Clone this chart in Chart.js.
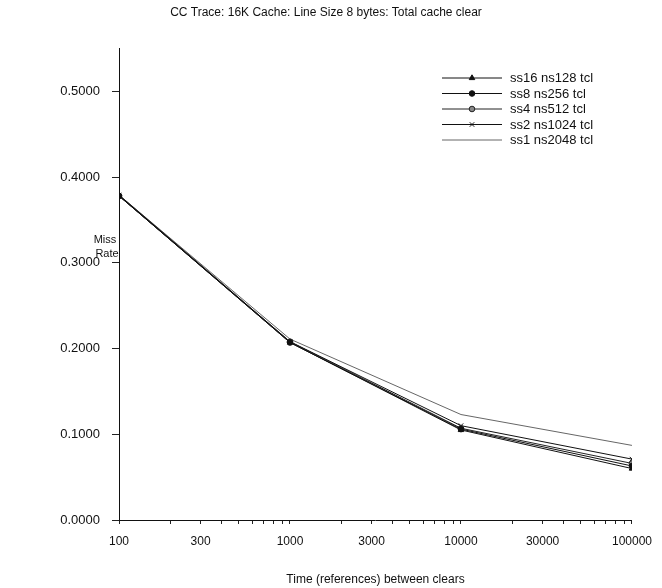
<!DOCTYPE html>
<html>
<head>
<meta charset="utf-8">
<script src="https://cdn.jsdelivr.net/npm/chart.js@4/dist/chart.umd.min.js"></script>
<style>
  html, body { margin: 0; padding: 0; background: #fff; }
  #wrap { width: 662px; height: 588px; }
</style>
</head>
<body>
<div id="wrap"><canvas id="c" width="662" height="588"></canvas></div>
<script>
// Time between clears (references), log axis
const clearIntervals = [100, 1000, 10000, 100000];

// Miss rate for each set-size / number-of-sets configuration
const ss16ns128 = [0.378, 0.207, 0.105, 0.060];
const ss8ns256  = [0.378, 0.207, 0.106, 0.063];
const ss4ns512  = [0.378, 0.208, 0.107, 0.066];
const ss2ns1024 = [0.379, 0.208, 0.110, 0.071];
const ss1ns2048 = [0.379, 0.211, 0.123, 0.087];

const seriesLabels = ['ss16 ns128 tcl', 'ss8 ns256 tcl', 'ss4 ns512 tcl', 'ss2 ns1024 tcl', 'ss1 ns2048 tcl'];

// Axis ticks
const yTickValues = [0, 0.1, 0.2, 0.3, 0.4, 0.5];
const xTickLabels = [100, 300, 1000, 3000, 10000, 30000, 100000];

const FONT = '"Liberation Sans", Arial, sans-serif';

function toPoints(values) {
  return values.map((v, i) => ({ x: clearIntervals[i], y: v }));
}

// Every 1..9 multiple per decade gets a tick mark; only some carry a label
const xTickMarks = [];
for (let d = 100; d < 100000; d *= 10) {
  for (let m = 1; m < 10; m++) xTickMarks.push(d * m);
}
xTickMarks.push(100000);

const styles = [
  { pointStyle: 'triangle', radius: 3.2, color: '#111', fill: '#111' },
  { pointStyle: 'circle', radius: 2.8, color: '#111', fill: '#111' },
  { pointStyle: 'circle', radius: 2.8, color: '#222', fill: '#888' },
  { pointStyle: 'crossRot', radius: 3.2, color: '#111', fill: '#111' },
  { pointStyle: false, radius: 0, color: '#666', fill: '#666' }
];
const seriesValues = [ss16ns128, ss8ns256, ss4ns512, ss2ns1024, ss1ns2048];

const datasets = seriesValues.map((vals, i) => ({
  label: seriesLabels[i],
  data: toPoints(vals),
  borderColor: styles[i].color,
  backgroundColor: styles[i].fill,
  borderWidth: 1,
  pointStyle: styles[i].pointStyle,
  pointRadius: styles[i].radius,
  pointBorderWidth: 1,
  pointBorderColor: styles[i].color,
  pointBackgroundColor: styles[i].fill,
  tension: 0
}));

// Legend drawn inside the plot: a short line with the series marker, then its name
const insideLegend = {
  id: 'insideLegend',
  afterDatasetsDraw(chart) {
    const ctx = chart.ctx;
    const x0 = 442, x1 = 502, tx = 510, y0 = 78, dy = 15.5;
    ctx.save();
    chart.data.datasets.forEach((ds, i) => {
      const y = y0 + i * dy;
      ctx.strokeStyle = ds.borderColor;
      ctx.lineWidth = 1;
      ctx.beginPath();
      ctx.moveTo(x0, y);
      ctx.lineTo(x1, y);
      ctx.stroke();
      if (ds.pointStyle) {
        ctx.fillStyle = ds.pointBackgroundColor;
        ctx.strokeStyle = ds.pointBorderColor;
        Chart.helpers.drawPoint(ctx, { pointStyle: ds.pointStyle, radius: ds.pointRadius, rotation: 0, borderWidth: 1 }, (x0 + x1) / 2, y);
      }
      ctx.fillStyle = '#111';
      ctx.font = '13px ' + FONT;
      ctx.textAlign = 'left';
      ctx.textBaseline = 'middle';
      ctx.fillText(ds.label, tx, y + 0.5);
    });
    ctx.restore();
  }
};

// Horizontal two-line y-axis caption
const yCaption = {
  id: 'yCaption',
  afterDraw(chart) {
    const ctx = chart.ctx;
    ctx.save();
    ctx.fillStyle = '#111';
    ctx.font = '11px ' + FONT;
    ctx.textAlign = 'center';
    ctx.textBaseline = 'middle';
    ctx.fillText('Miss', 105, 240);
    ctx.fillText('Rate', 107, 254);
    ctx.restore();
  }
};

new Chart(document.getElementById('c'), {
  type: 'line',
  data: { datasets },
  plugins: [insideLegend, yCaption],
  options: {
    responsive: false,
    animation: false,
    layout: { padding: { left: 18, right: 28, top: 0, bottom: 0 } },
    plugins: {
      legend: { display: false },
      tooltip: { enabled: false },
      title: {
        display: true,
        text: 'CC Trace: 16K Cache: Line Size 8 bytes: Total cache clear',
        color: '#111',
        font: { family: FONT, size: 12, weight: 'normal' },
        padding: { top: 5, bottom: 29 }
      }
    },
    scales: {
      x: {
        type: 'logarithmic',
        min: 100,
        max: 100000,
        afterBuildTicks(scale) {
          scale.ticks = xTickMarks.map(v => ({ value: v, major: xTickLabels.includes(v) }));
        },
        afterFit(scale) { scale.height = 68; },
        grid: { drawOnChartArea: false, drawTicks: true, tickLength: 4, color: '#222' },
        border: { display: true, color: '#111', width: 1 },
        ticks: {
          autoSkip: false,
          maxRotation: 0,
          padding: 10,
          color: '#111',
          font: { family: FONT, size: 12 },
          callback(value) { return xTickLabels.includes(value) ? String(value) : ''; }
        },
        title: {
          display: true,
          text: 'Time (references) between clears',
          color: '#111',
          font: { family: FONT, size: 12 },
          padding: { top: 0, bottom: 1 }
        }
      },
      y: {
        type: 'linear',
        min: 0,
        max: 0.55,
        afterBuildTicks(scale) {
          scale.ticks = yTickValues.map(v => ({ value: v }));
        },
        afterFit(scale) { scale.width = 101; },
        grid: { drawOnChartArea: false, drawTicks: true, tickLength: 7, color: '#222' },
        border: { display: true, color: '#111', width: 1 },
        ticks: {
          padding: 12,
          color: '#111',
          font: { family: FONT, size: 13 },
          callback(value) { return Number(value).toFixed(4); }
        }
      }
    }
  }
});
</script>
</body>
</html>
